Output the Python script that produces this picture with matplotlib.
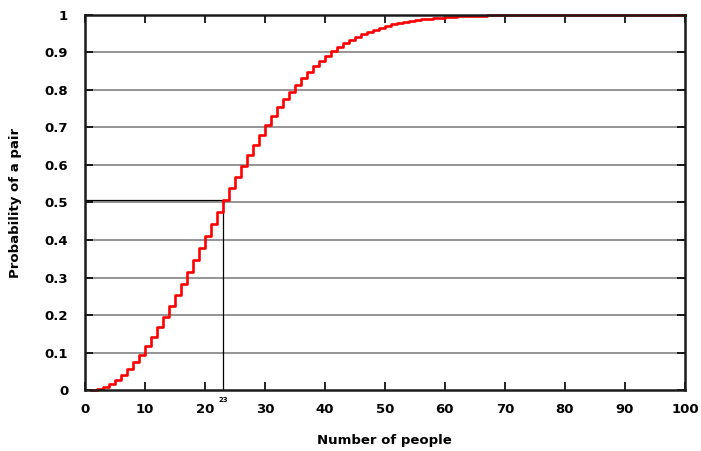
import numpy as np
import matplotlib
matplotlib.use("Agg")
import matplotlib.pyplot as plt

# --- DATA ---
people = list(range(1, 101))
prob_pair = [
    0.0, 0.0027, 0.0082, 0.0164, 0.0271, 0.0405, 0.0562, 0.0743, 0.0946, 0.1169,
    0.1411, 0.1670, 0.1944, 0.2231, 0.2529, 0.2836, 0.3150, 0.3469, 0.3791, 0.4114,
    0.4437, 0.4757, 0.5073, 0.5383, 0.5687, 0.5982, 0.6269, 0.6545, 0.6810, 0.7063,
    0.7305, 0.7533, 0.7750, 0.7953, 0.8144, 0.8322, 0.8487, 0.8641, 0.8782, 0.8912,
    0.9032, 0.9140, 0.9239, 0.9329, 0.9410, 0.9483, 0.9548, 0.9606, 0.9658, 0.9704,
    0.9744, 0.9780, 0.9811, 0.9839, 0.9863, 0.9883, 0.9901, 0.9917, 0.9930, 0.9941,
    0.9951, 0.9959, 0.9966, 0.9972, 0.9977, 0.9981, 0.9984, 0.9987, 0.9990, 0.9992,
    0.9993, 0.9995, 0.9996, 0.9997, 0.9997, 0.9998, 0.9998, 0.9999, 0.9999, 0.9999,
    1.0, 1.0, 1.0, 1.0, 1.0, 1.0, 1.0, 1.0, 1.0, 1.0,
    1.0, 1.0, 1.0, 1.0, 1.0, 1.0, 1.0, 1.0, 1.0, 1.0,
]
x_ticks = list(range(0, 101, 10))
y_ticks = [0, 0.1, 0.2, 0.3, 0.4, 0.5, 0.6, 0.7, 0.8, 0.9, 1]
y_tick_labels = ["0", "0.1", "0.2", "0.3", "0.4", "0.5", "0.6", "0.7", "0.8", "0.9", "1"]
half_n = 23
half_p = prob_pair[half_n - 1]

plt.rcParams["font.family"] = ["DejaVu Sans"]

fig = plt.figure(figsize=(7.01, 4.51), dpi=100)
ax = fig.add_axes([0.121, 0.135, 0.856, 0.832])

# horizontal grid
for y in y_ticks[1:-1]:
    ax.axhline(y, color="#8c8c8c", lw=1.3, zorder=1)

# step curve
ax.step(people, prob_pair, where="post", color="red", lw=1.9, zorder=3, clip_on=False)

# 50% marker lines
ax.plot([half_n, half_n], [0, half_p], color="black", lw=0.9, zorder=2)
ax.plot([0, half_n], [half_p, half_p], color="black", lw=0.9, zorder=2)

ax.set_xlim(0, 100)
ax.set_ylim(0, 1)
ax.set_xticks(x_ticks)
ax.set_xticklabels([str(v) for v in x_ticks])
ax.set_yticks(y_ticks)
ax.set_yticklabels(y_tick_labels)
ax.tick_params(axis="both", direction="in", length=6, width=1.2, colors="black",
               labelsize=9.5, top=True, right=True)
ax.tick_params(axis="x", pad=9)
ax.tick_params(axis="y", pad=12)
for lab in ax.get_xticklabels() + ax.get_yticklabels():
    lab.set_fontweight("bold")

for sp in ax.spines.values():
    sp.set_linewidth(1.8)
    sp.set_color("#1a1a1a")
    sp.set_zorder(4)

ax.annotate(str(half_n), xy=(half_n, 0), xycoords="data",
            xytext=(0, -5), textcoords="offset points",
            ha="center", va="top", fontsize=5, fontweight="bold")

ax.set_xlabel("Number of people", fontsize=9.5, fontweight="bold", labelpad=13)
ax.set_ylabel("Probability of a pair", fontsize=9.5, fontweight="bold", labelpad=16)

fig.savefig("out.png", dpi=100)
